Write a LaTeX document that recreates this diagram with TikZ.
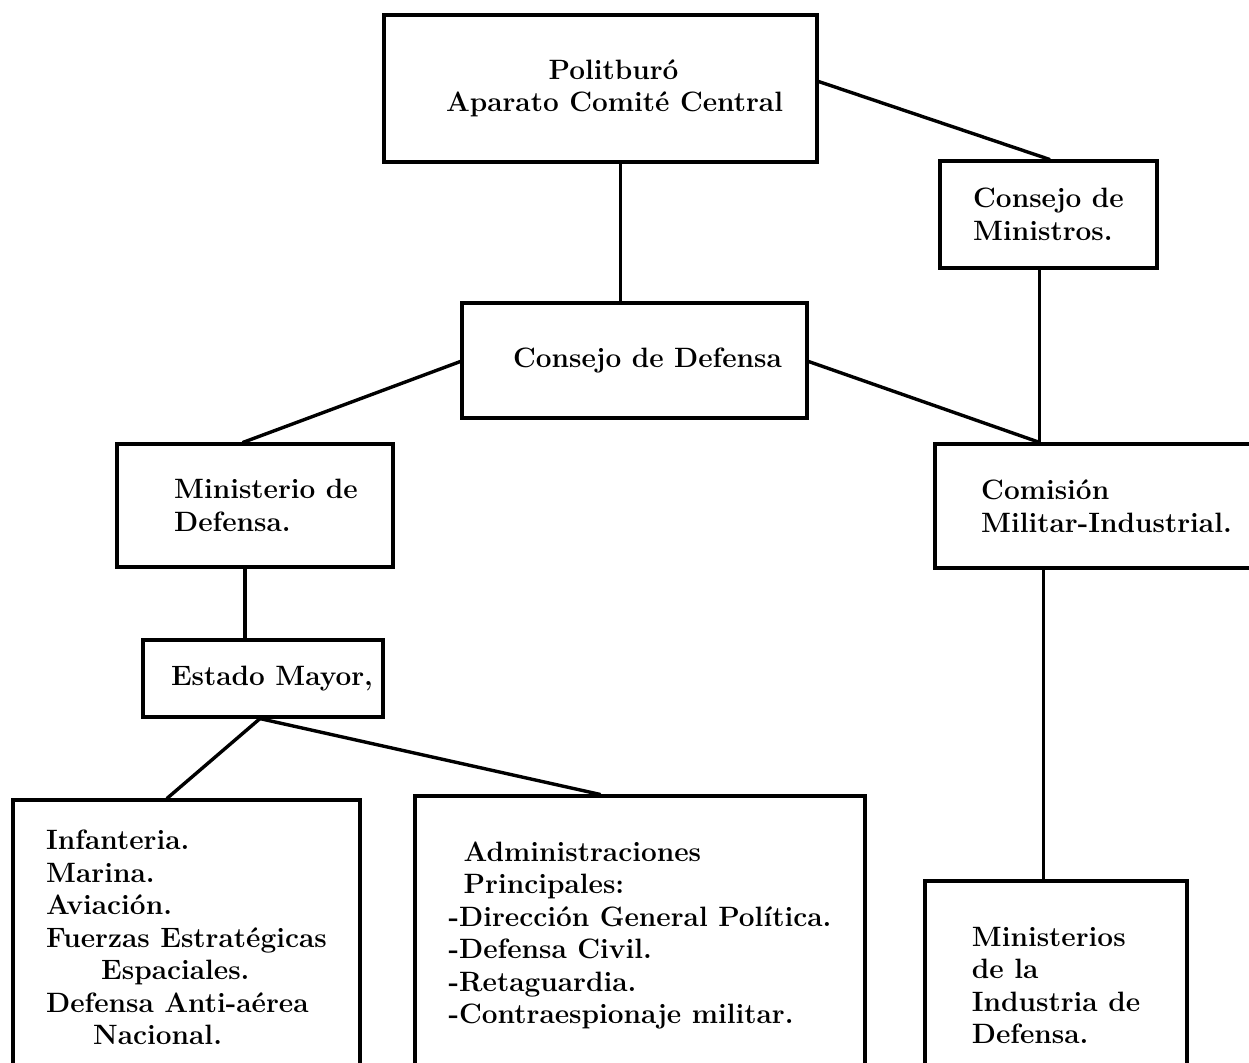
\documentclass[tikz,border=0pt]{standalone}
\usepackage{tikz}

\begin{document}
\begin{tikzpicture}[
    x=1pt, y=-1pt,
    box/.style={rectangle, draw, line width=3.2pt, inner sep=0pt,
                font=\bfseries\fontsize{28}{32.5}\selectfont},
    link/.style={line width=3.4pt, line cap=round}
]
\clip (0,0) rectangle (1249,1062);

\node[box, minimum width=433pt, minimum height=147pt, align=center]
  (polit) at (600.5,88.5)
  {\hspace*{26pt}Politburó\\\hspace*{28pt}Aparato Comité Central};
\node[box, minimum width=217pt, minimum height=107pt, align=left]
  (ministros) at (1048.5,214.5) {Consejo de\\Ministros.};
\node[box, minimum width=345pt, minimum height=115pt]
  (defensa) at (634.5,360.5) {\hspace*{26pt}Consejo de Defensa};
\node[box, minimum width=276pt, minimum height=123pt, align=left]
  (ministerio) at (255,505.5)
  {\hspace*{22pt}Ministerio de\\\hspace*{22pt}Defensa.};
\node[box, minimum width=343pt, minimum height=124pt, align=left]
  (comision) at (1106.5,506) {Comisión\\Militar-Industrial.};
\node[box, minimum width=240pt, minimum height=77pt]
  (estado) at (263,678.5) {\hspace*{18pt}Estado Mayor,};
\node[box, minimum width=347pt, minimum height=275pt, align=left]
  (fuerzas) at (186.5,937.5)
  {Infanteria.\\Marina.\\Aviación.\\Fuerzas Estratégicas\\
   \hspace*{55pt}Espaciales.\\Defensa Anti-aérea\\\hspace*{47pt}Nacional.};
\node[box, minimum width=450pt, minimum height=279pt, align=left]
  (admin) at (640,935.5)
  {\hspace*{15pt}Administraciones\\\hspace*{15pt}Principales:\\
   -Dirección General Política.\\-Defensa Civil.\\-Retaguardia.\\
   -Contraespionaje militar.};
\node[box, minimum width=262pt, minimum height=209pt, align=left]
  (minind) at (1056,985.5)
  {Ministerios\\de la\\Industria de\\Defensa.};

% connectors
\coordinate (junc) at ([xshift=-9pt]ministros.south |- comision.north);
\draw[link] ([xshift=20pt]polit.south) -- ([xshift=20pt]polit.south |- defensa.north);
\draw[link] ([yshift=7pt]polit.east) -- ([xshift=1pt]ministros.north);
\draw[link] ([xshift=-9pt]ministros.south) -- (junc);
\draw[link] ([yshift=-1pt]defensa.east) -- (junc);
\draw[link] ([yshift=-1pt]defensa.west) -- ([xshift=-12pt]ministerio.north);
\draw[link] ([xshift=-10pt]ministerio.south) -- ([xshift=-10pt]ministerio.south |- estado.north);
\draw[link] ([xshift=-3pt]estado.south) -- ([xshift=-19.5pt]fuerzas.north);
\draw[link] ([xshift=-3pt]estado.south) -- ([xshift=-40pt]admin.north);
\draw[link] ([xshift=-63pt]comision.south) -- ([xshift=-63pt]comision.south |- minind.north);
\end{tikzpicture}
\end{document}
